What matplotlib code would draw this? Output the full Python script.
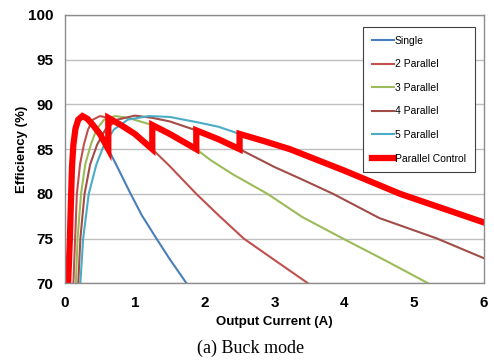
import matplotlib
matplotlib.use("Agg")
import matplotlib.pyplot as plt

# ---- data ----
single_x = [0.045, 0.07, 0.088, 0.10, 0.12, 0.15, 0.19, 0.25, 0.32, 0.40, 0.50, 0.62, 0.75, 0.94, 1.10, 1.31, 1.50, 1.74]
single_y = [70.0, 75.0, 80.0, 83.0, 85.5, 87.3, 88.3, 88.7, 88.4, 87.7, 86.7, 85.0, 83.0, 80.0, 77.6, 75.0, 72.7, 70.0]

par2_x = [0.12, 0.145, 0.17, 0.215, 0.27, 0.33, 0.40, 0.50, 0.62, 0.80, 1.00, 1.25, 1.50, 1.88, 2.20, 2.56, 3.00, 3.48]
par2_y = [70.0, 75.0, 80.0, 83.3, 85.5, 87.2, 88.3, 88.7, 88.5, 87.7, 86.7, 85.0, 83.1, 80.0, 77.6, 75.0, 72.6, 70.0]

par3_x = [0.155, 0.18, 0.23, 0.29, 0.37, 0.45, 0.56, 0.72, 0.90, 1.25, 1.50, 1.88, 2.08, 2.40, 2.90, 3.40, 3.98, 4.60, 5.20]
par3_y = [70.0, 75.0, 80.0, 83.3, 85.5, 87.2, 88.3, 88.7, 88.5, 87.7, 86.7, 85.0, 83.8, 82.2, 80.0, 77.4, 75.0, 72.5, 70.0]

par4_x = [0.19, 0.22, 0.28, 0.36, 0.46, 0.58, 0.75, 1.00, 1.25, 1.50, 1.88, 2.20, 2.50, 3.00, 3.37, 3.84, 4.50, 5.33, 6.00]
par4_y = [70.0, 75.0, 80.0, 83.3, 85.5, 87.2, 88.3, 88.75, 88.5, 88.1, 87.1, 86.1, 85.0, 83.0, 81.7, 80.0, 77.3, 75.0, 72.8]

par5_x = [0.22, 0.26, 0.34, 0.45, 0.56, 0.70, 0.90, 1.20, 1.50, 1.90, 2.20, 2.50, 2.85, 3.22, 4.00, 4.80, 5.40, 6.00]
par5_y = [70.0, 75.0, 80.0, 83.3, 85.5, 87.2, 88.3, 88.7, 88.6, 88.0, 87.5, 86.7, 85.9, 85.0, 82.6, 80.0, 78.4, 76.8]

ctrl_x = [0.045, 0.07, 0.088, 0.10, 0.12, 0.15, 0.19, 0.25, 0.32, 0.40, 0.50, 0.62, 0.62, 0.80, 1.00, 1.25, 1.25,
          1.50, 1.88, 1.88, 2.20, 2.50, 2.50, 2.85, 3.22, 4.00, 4.80, 5.40, 6.00]
ctrl_y = [70.0, 75.0, 80.0, 83.0, 85.5, 87.3, 88.3, 88.7, 88.4, 87.7, 86.7, 85.0, 88.5, 87.7, 86.7, 85.0, 87.7,
          86.7, 85.0, 87.1, 86.1, 85.0, 86.7, 85.9, 85.0, 82.6, 80.0, 78.4, 76.8]

labels = ["Single", "2 Parallel", "3 Parallel", "4 Parallel", "5 Parallel", "Parallel Control"]
colors = ["#4A7EBB", "#C0504D", "#9BBB59", "#A24C48", "#4BACC6", "#FF0000"]
x_ticks = [0, 1, 2, 3, 4, 5, 6]
y_ticks = [70, 75, 80, 85, 90, 95, 100]

sans = ["Liberation Sans", "DejaVu Sans"]

fig = plt.figure(figsize=(4.94, 3.60), dpi=100)
ax = fig.add_axes([65 / 494, 1 - 283.3 / 360, (484 - 65) / 494, (283.3 - 15) / 360])

series = [(single_x, single_y), (par2_x, par2_y), (par3_x, par3_y), (par4_x, par4_y), (par5_x, par5_y)]
for (xs, ys), lab, c in zip(series, labels[:5], colors[:5]):
    ax.plot(xs, ys, color=c, lw=1.5, label=lab, solid_joinstyle="round")
ax.plot(ctrl_x, ctrl_y, color=colors[5], lw=4.5, label=labels[5], solid_joinstyle="miter")

ax.set_xlim(0, 6)
ax.set_ylim(70, 100)
ax.set_xticks(x_ticks)
ax.set_yticks(y_ticks)
ax.set_xticklabels([str(v) for v in x_ticks], family=sans, fontweight="bold", fontsize=11)
ax.set_yticklabels([str(v) for v in y_ticks], family=sans, fontweight="bold", fontsize=11)
ax.tick_params(axis="x", length=0, pad=9.5)
ax.tick_params(axis="y", length=0, pad=8.5)
ax.yaxis.grid(True, color="#BFBFBF", lw=1.0)
ax.set_axisbelow(True)
for s in ax.spines.values():
    s.set_color("#8C8C8C")
    s.set_linewidth(1.0)

ax.set_xlabel("Output Current (A)", family=sans, fontweight="bold", fontsize=9.5)
ax.set_ylabel("Efficiency (%)", family=sans, fontweight="bold", fontsize=9.5)
ax.xaxis.set_label_coords(0.5, -(316 - 283.3) / 268.3)
ax.yaxis.set_label_coords((28 - 65) / 419, 0.5)

leg = ax.legend(loc="upper left", bbox_to_anchor=(363 / 494, 1 - 27 / 360), bbox_transform=fig.transFigure,
                prop={"family": sans, "size": 7.5}, frameon=True, fancybox=False, edgecolor="#404040",
                framealpha=1, handlelength=2.1, handletextpad=0.1, labelspacing=1.3, borderpad=0.85,
                borderaxespad=0)
leg.get_frame().set_linewidth(0.8)

fig.text(251 / 494, 1 - 348 / 360, "(a) Buck mode", family="Liberation Serif", fontsize=13,
         ha="center", va="center")

fig.savefig("out.png", dpi=100)
